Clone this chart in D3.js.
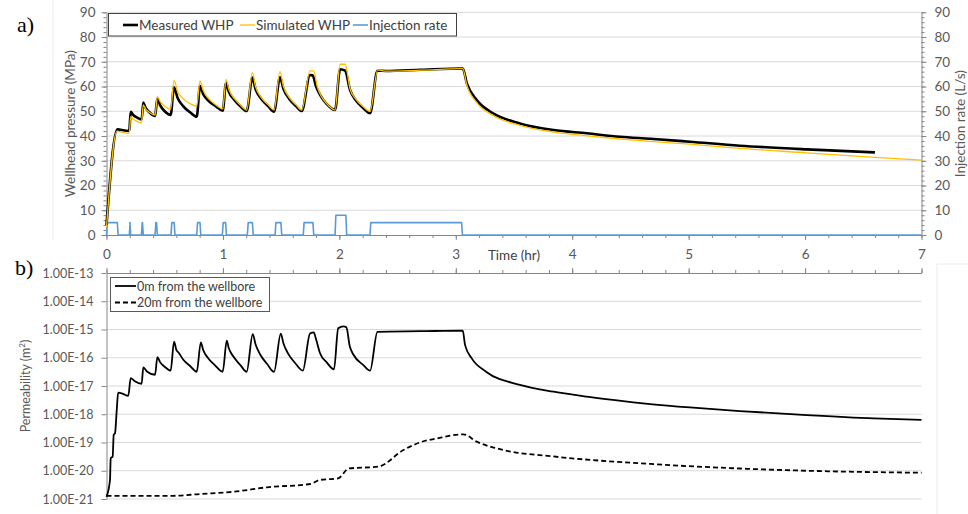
<!DOCTYPE html>
<html lang="en">
<head>
<meta charset="utf-8">
<title>WHP and permeability</title>
<script src="https://cdn.jsdelivr.net/npm/d3@7"></script>
<style>
  body { margin: 0; background: white; }
  text { font-family: Lato, "Open Sans", sans-serif; }
</style>
</head>
<body>
<div id="chart"></div>
<script>
// ---- data (time in hours) ----
var measuredWHP = [[0,4],[0.093,42.7],[0.12,42.5],[0.187,42],[0.196,42.5],[0.208,49.8],[0.23,48.5],[0.26,47.5],[0.302,46.7],
  [0.316,53.5],[0.335,51.5],[0.37,49.5],[0.417,48.1],[0.437,55.1],[0.46,52.5],[0.5,50],[0.551,48.5],
  [0.58,59.7],[0.61,55.5],[0.66,52],[0.72,49.5],[0.775,47.8],[0.803,60.2],[0.83,57],[0.88,54],[0.94,52],[0.998,50.2],
  [1.027,61.5],[1.05,58],[1.1,54.5],[1.15,52],[1.204,50.1],[1.253,63.6],[1.28,59],[1.33,55],[1.39,52],[1.439,49.8],
  [1.49,63.7],[1.52,59],[1.57,55],[1.63,52],[1.677,50.1],[1.748,64.6],[1.77,64.5],[1.8,60],[1.834,56.6],[1.89,53],[1.963,50.5],
  [2.006,67],[2.049,66.4],[2.092,58.6],[2.14,54.5],[2.2,51.5],[2.264,49.2],[2.327,66.4],[2.4,66.3],[2.7,66.8],[3.06,67.3],
  [3.095,61.3],[3.18,54.5],[3.32,49.2],[3.55,45.1],[3.84,42.4],[4.125,41.1],[4.41,39.7],[4.67,38.9],[5.01,37.7],
  [5.44,36.1],[6.015,34.6],[6.6,33.4]];

var simulatedWHP = [[0,3],[0.09,42],[0.12,41.7],[0.19,41.1],[0.196,41.5],[0.208,47.8],[0.23,46.8],[0.26,46],[0.3,45.3],
  [0.316,52.6],[0.335,51],[0.37,49.5],[0.417,48.5],[0.437,55.9],[0.46,54],[0.5,52],[0.551,50.8],
  [0.58,62.6],[0.61,58],[0.66,55],[0.72,53],[0.775,52.1],[0.803,62.3],[0.83,58.5],[0.88,55],[0.94,52.5],[0.998,51],
  [1.027,62.9],[1.05,59],[1.1,55],[1.15,52.5],[1.204,50.5],[1.253,65.6],[1.28,60],[1.33,55.5],[1.39,52.5],[1.439,50.5],
  [1.49,66],[1.52,60],[1.57,55.5],[1.63,52.5],[1.677,50.5],[1.748,66.3],[1.78,66.3],[1.81,60],[1.84,56.5],[1.89,53.2],[1.963,50.5],
  [2.006,69],[2.05,69],[2.092,59],[2.14,55],[2.2,52],[2.264,50],[2.33,66.7],[2.4,66.2],[2.7,66.6],[3.06,67.2],
  [3.095,60.5],[3.18,53.5],[3.32,48.3],[3.55,44.3],[3.84,41.6],[4.125,40.1],[4.41,38.8],[4.67,37.8],[5.01,36.7],
  [5.44,35.0],[6.015,33.2],[6.6,31.4],[7.0,30.3]];

// injection pulses (start hr, end hr, rate L/s)
var pulseStart = [0.0, 0.196, 0.300, 0.417, 0.554, 0.775, 0.995, 1.210, 1.448, 1.690, 1.963, 2.263];
var pulseEnd   = [0.100, 0.208, 0.316, 0.437, 0.588, 0.810, 1.030, 1.260, 1.505, 1.780, 2.063, 3.057];
var pulseRate  = [5, 5, 5, 5, 5, 5, 5, 5, 5, 5, 8, 5];

var perm0m = [[0,1.2e-21],[0.03,4.7e-21],[0.036,2.8e-20],[0.053,3.2e-20],[0.062,1.9e-19],[0.073,2.1e-19],[0.088,1.4e-18],
  [0.1,5.8e-18],[0.14,5.3e-18],[0.187,4.5e-18],[0.208,1.9e-17],[0.24,1.5e-17],[0.302,1.2e-17],[0.316,4.6e-17],[0.35,3.2e-17],
  [0.417,2.5e-17],[0.437,1.05e-16],[0.46,7e-17],[0.5,4.8e-17],[0.551,3.5e-17],[0.58,3.7e-16],[0.6,1.9e-16],[0.62,1.5e-16],
  [0.66,8.5e-17],[0.72,5e-17],[0.775,3.2e-17],[0.81,3.5e-16],[0.83,1.9e-16],[0.87,1e-16],[0.93,5.5e-17],[0.998,3.2e-17],
  [1.033,4e-16],[1.05,2.2e-16],[1.09,1.1e-16],[1.15,5.5e-17],[1.204,3.2e-17],[1.256,6.9e-16],[1.28,3e-16],[1.32,1.3e-16],
  [1.38,6e-17],[1.439,3.2e-17],[1.497,7.2e-16],[1.52,3.2e-16],[1.56,1.4e-16],[1.62,6.5e-17],[1.686,3.5e-17],
  [1.748,7.2e-16],[1.78,7.9e-16],[1.8,4.5e-16],[1.834,1.45e-16],[1.89,7e-17],[1.954,3.9e-17],[1.99,1.1e-15],[2.035,1.3e-15],
  [2.06,1.2e-15],[2.09,2.5e-16],[2.12,1.3e-16],[2.206,5.5e-17],[2.264,3.5e-17],[2.327,8.3e-16],[2.7,8.7e-16],[3.06,9.1e-16],
  [3.08,2.8e-16],[3.137,9.5e-17],[3.26,3.2e-17],[3.55,1.1e-17],[3.84,6.3e-18],[4.125,4.2e-18],[4.67,2.3e-18],[5.01,1.74e-18],
  [5.44,1.3e-18],[6.015,9.3e-19],[6.59,7.1e-19],[7.0,6.3e-19]];

var perm20m = [[0,1.3e-21],[0.57,1.3e-21],[0.8,1.5e-21],[1.09,1.8e-21],[1.38,2.6e-21],[1.75,3.4e-21],[1.83,4.7e-21],
  [1.99,5.4e-21],[2.08,1.2e-20],[2.335,1.4e-20],[2.55,5.4e-20],[2.69,1.0e-19],[2.84,1.4e-19],[3.065,1.95e-19],
  [3.18,1.07e-19],[3.41,5.4e-20],[3.84,3.2e-20],[4.67,1.74e-20],[5.44,1.2e-20],[6.015,1.0e-20],[7.0,8.5e-21]];

var timeTicks = [0, 1, 2, 3, 4, 5, 6, 7];
var whpTicks = [0, 10, 20, 30, 40, 50, 60, 70, 80, 90];
var permTicks = [1e-13, 1e-14, 1e-15, 1e-16, 1e-17, 1e-18, 1e-19, 1e-20, 1e-21];

// ---- layout ----
var W = 968, H = 514;
var xL = 106.5, xR = 921.5;
var topA = 12.3, botA = 235;
var topB = 273, botB = 499;
var axisCol = "#868686", gridCol = "#d9d9d9", txtCol = "#595959";

var svg = d3.select("#chart").append("svg")
  .attr("width", W).attr("height", H);

var x = d3.scaleLinear().domain([0, 7]).range([xL, xR]);
var yA = d3.scaleLinear().domain([0, 90]).range([botA, topA]);
var yR = d3.scaleLinear().domain([0, 90]).range([botA, topA]);
var yB = d3.scaleLog().domain([1e-21, 1e-13]).range([botB, topB]);

// faint frame lines
svg.append("line").attr("x1", 53).attr("x2", 53).attr("y1", 0).attr("y2", 240).attr("stroke", "#ececec");
svg.append("line").attr("x1", 937).attr("x2", 937).attr("y1", 264).attr("y2", 514).attr("stroke", "#ececec");
svg.append("line").attr("x1", 937).attr("x2", 968).attr("y1", 264).attr("y2", 264).attr("stroke", "#ececec");

// ===== panel a =====
var gA = svg.append("g");
gA.selectAll(".gridA").data(whpTicks.slice(1)).enter().append("line")
  .attr("x1", xL).attr("x2", xR)
  .attr("y1", function(d) { return yA(d); }).attr("y2", function(d) { return yA(d); })
  .attr("stroke", gridCol).attr("stroke-width", 1);

// left axis with minor ticks
var minorA = d3.range(0, 91, 2);
gA.append("g").attr("transform", "translate(" + xL + ",0)")
  .call(d3.axisLeft(yA).tickValues(minorA).tickSize(3).tickFormat(""))
  .call(function(g) { g.select(".domain").remove(); g.selectAll("line").attr("stroke", axisCol); });
gA.append("g").attr("transform", "translate(" + xL + ",0)")
  .call(d3.axisLeft(yA).tickValues(whpTicks).tickSize(5).tickPadding(6).tickSizeOuter(0))
  .call(function(g) {
    g.select(".domain").attr("stroke", axisCol);
    g.selectAll("line").attr("stroke", axisCol);
    g.selectAll("text").attr("fill", txtCol).style("font-size", "13.5px").style("font-family", "Lato, sans-serif");
  });

// right axis
gA.append("g").attr("transform", "translate(" + xR + ",0)")
  .call(d3.axisRight(yR).tickValues(minorA).tickSize(3).tickFormat(""))
  .call(function(g) { g.select(".domain").remove(); g.selectAll("line").attr("stroke", axisCol); });
gA.append("g").attr("transform", "translate(" + xR + ",0)")
  .call(d3.axisRight(yR).tickValues(whpTicks).tickSize(5).tickPadding(8).tickSizeOuter(0))
  .call(function(g) {
    g.select(".domain").attr("stroke", axisCol);
    g.selectAll("line").attr("stroke", axisCol);
    g.selectAll("text").attr("fill", txtCol).style("font-size", "13.5px").style("font-family", "Lato, sans-serif");
  });

// bottom axis of panel a (ticks down)
gA.append("g").attr("transform", "translate(0," + botA + ")")
  .call(d3.axisBottom(x).tickValues(d3.range(0, 7.01, 0.2)).tickSize(3).tickFormat(""))
  .call(function(g) { g.select(".domain").remove(); g.selectAll("line").attr("stroke", axisCol); });
gA.append("g").attr("transform", "translate(0," + botA + ")")
  .call(d3.axisBottom(x).tickValues(timeTicks).tickSize(5).tickPadding(9).tickSizeOuter(0)
    .tickFormat(d3.format("d")))
  .call(function(g) {
    g.select(".domain").attr("stroke", axisCol);
    g.selectAll("line").attr("stroke", axisCol);
    g.selectAll("text").attr("fill", txtCol).style("font-size", "13.5px").style("font-family", "Lato, sans-serif");
  });

svg.append("text").attr("x", x(3.5)).attr("y", 260).attr("text-anchor", "middle")
  .attr("fill", "#404040").style("font-size", "13.5px").text("Time (hr)");

// axis titles
svg.append("text").attr("transform", "translate(75," + ((topA + botA) / 2) + ") rotate(-90)")
  .attr("text-anchor", "middle").attr("fill", txtCol).style("font-size", "13.5px")
  .text("Wellhead pressure (MPa)");
svg.append("text").attr("transform", "translate(965," + ((topA + botA) / 2) + ") rotate(-90)")
  .attr("text-anchor", "middle").attr("fill", txtCol).style("font-size", "13.5px")
  .text("Injection rate (L/s)");

// injection series built from pulses
var ramp = 0.007;
var injection = [[0, 0]];
pulseStart.forEach(function(s, i) {
  var e = pulseEnd[i], r = pulseRate[i];
  injection.push([s, 0], [s + ramp, r], [e - ramp, r], [e, 0]);
});
injection.push([7, 0]);

var lineA = d3.line().curve(d3.curveMonotoneX)
  .x(function(d) { return x(d[0]); }).y(function(d) { return yA(d[1]); });
var lineR = d3.line().x(function(d) { return x(d[0]); }).y(function(d) { return yR(d[1]); });

gA.append("path").datum(injection).attr("d", lineR)
  .attr("fill", "none").attr("stroke", "#5b9bd5").attr("stroke-width", 1.6).attr("stroke-linejoin", "round");
gA.append("path").datum(measuredWHP).attr("d", lineA)
  .attr("fill", "none").attr("stroke", "#000").attr("stroke-width", 2.6).attr("stroke-linejoin", "round");
gA.append("path").datum(simulatedWHP).attr("d", lineA)
  .attr("fill", "none").attr("stroke", "#ffc000").attr("stroke-width", 1.3).attr("stroke-linejoin", "round");

// legend a
var legA = svg.append("g");
legA.append("rect").attr("x", 108.5).attr("y", 13.5).attr("width", 348).attr("height", 22.5)
  .attr("fill", "white").attr("stroke", "#404040").attr("stroke-width", 1);
var legItemsA = [
  { label: "Measured WHP", color: "#000", w: 2.6, x0: 123 },
  { label: "Simulated WHP", color: "#ffc000", w: 1.3, x0: 240 },
  { label: "Injection rate", color: "#5b9bd5", w: 1.6, x0: 353 }
];
legItemsA.forEach(function(it) {
  legA.append("line").attr("x1", it.x0).attr("x2", it.x0 + 15).attr("y1", 25).attr("y2", 25)
    .attr("stroke", it.color).attr("stroke-width", it.w);
  legA.append("text").attr("x", it.x0 + 16).attr("y", 29.5).attr("fill", "#404040")
    .style("font-size", "13.5px").text(it.label);
});

svg.append("text").attr("x", 17).attr("y", 32).style("font-family", "'Liberation Serif', serif")
  .style("font-size", "22px").attr("fill", "#000").text("a)");

// ===== panel b =====
var gB = svg.append("g");
gB.selectAll(".gridB").data(permTicks.slice(1)).enter().append("line")
  .attr("x1", xL).attr("x2", xR)
  .attr("y1", function(d) { return yB(d); }).attr("y2", function(d) { return yB(d); })
  .attr("stroke", gridCol).attr("stroke-width", 1);

gB.append("g").attr("transform", "translate(" + xL + ",0)")
  .call(d3.axisLeft(yB).tickValues(permTicks).tickSize(5).tickPadding(8).tickSizeOuter(0)
    .tickFormat(function(d) {
      var e = Math.round(Math.log10(d));
      return "1.00E" + (e < 0 ? "-" : "+") + String(Math.abs(e)).padStart(2, "0");
    }))
  .call(function(g) {
    g.select(".domain").attr("stroke", axisCol);
    g.selectAll("line").attr("stroke", axisCol);
    g.selectAll("text").attr("fill", txtCol).style("font-size", "12.5px").style("font-family", "Lato, sans-serif");
  });

// top x-axis of panel b (ticks up, no labels)
gB.append("g").attr("transform", "translate(0," + topB + ")")
  .call(d3.axisTop(x).tickValues(d3.range(0, 7.01, 0.2)).tickSize(3).tickFormat(""))
  .call(function(g) { g.select(".domain").remove(); g.selectAll("line").attr("stroke", axisCol); });
gB.append("g").attr("transform", "translate(0," + topB + ")")
  .call(d3.axisTop(x).tickValues(timeTicks).tickSize(5).tickFormat("").tickSizeOuter(0))
  .call(function(g) {
    g.select(".domain").attr("stroke", axisCol);
    g.selectAll("line").attr("stroke", axisCol);
  });

var permTitle = svg.append("text").attr("transform", "translate(30," + ((topB + botB) / 2) + ") rotate(-90)")
  .attr("text-anchor", "middle").attr("fill", txtCol).style("font-size", "12.5px");
permTitle.append("tspan").text("Permeability (m");
permTitle.append("tspan").attr("dy", -5).style("font-size", "8px").text("2");
permTitle.append("tspan").attr("dy", 5).text(")");

var lineB = d3.line().curve(d3.curveMonotoneX)
  .x(function(d) { return x(d[0]); }).y(function(d) { return yB(d[1]); });
gB.append("path").datum(perm20m).attr("d", lineB)
  .attr("fill", "none").attr("stroke", "#000").attr("stroke-width", 1.8).attr("stroke-dasharray", "5,3");
gB.append("path").datum(perm0m).attr("d", lineB)
  .attr("fill", "none").attr("stroke", "#000").attr("stroke-width", 1.8).attr("stroke-linejoin", "round");

// legend b
var legB = svg.append("g");
legB.append("rect").attr("x", 110.5).attr("y", 277.5).attr("width", 159).attr("height", 34)
  .attr("fill", "white").attr("stroke", "#595959").attr("stroke-width", 1);
[{ label: "0m from the wellbore", dash: null, y: 286 },
 { label: "20m from the wellbore", dash: "5,3", y: 302.5 }].forEach(function(it) {
  legB.append("line").attr("x1", 115).attr("x2", 136).attr("y1", it.y).attr("y2", it.y)
    .attr("stroke", "#000").attr("stroke-width", 1.8).attr("stroke-dasharray", it.dash);
  legB.append("text").attr("x", 137).attr("y", it.y + 4.5).attr("fill", "#404040")
    .style("font-size", "12.5px").text(it.label);
});

svg.append("text").attr("x", 15).attr("y", 275).style("font-family", "'Liberation Serif', serif")
  .style("font-size", "22px").attr("fill", "#000").text("b)");
</script>
</body>
</html>
